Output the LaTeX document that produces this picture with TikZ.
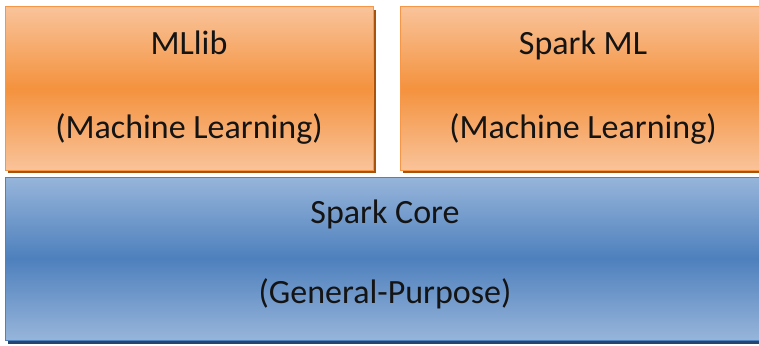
\documentclass[tikz,border=0pt]{standalone}
\usepackage{fontspec}
\setmainfont{Carlito}
\usetikzlibrary{shadows}
\definecolor{orlight}{HTML}{F9C39A}
\definecolor{ormid}{HTML}{F4923E}
\definecolor{oredge}{HTML}{F79646}
\definecolor{orshadow}{HTML}{A9520C}
\definecolor{bllight}{HTML}{97B5DA}
\definecolor{blmid}{HTML}{4E80BD}
\definecolor{bledge}{HTML}{4F81BD}
\definecolor{blshadow}{HTML}{23456F}
\definecolor{txt}{HTML}{141414}
\begin{document}
\begin{tikzpicture}[x=1pt,y=-1pt,
  orbox/.style={draw=oredge, line width=1pt, top color=orlight, bottom color=orlight, middle color=ormid,
    inner sep=0pt, outer sep=0pt,
    drop shadow={shadow xshift=3pt, shadow yshift=-3pt, fill=orshadow, opacity=1}},
  blbox/.style={draw=bledge, line width=1pt, top color=bllight, bottom color=bllight, middle color=blmid,
    inner sep=0pt, outer sep=0pt,
    drop shadow={shadow xshift=3pt, shadow yshift=-4pt, fill=blshadow, opacity=1}},
  lbl/.style={anchor=base, inner sep=0pt, text=txt, font=\fontsize{34}{40}\selectfont}]
\useasboundingbox (0,0) rectangle (759,345);
\fill[white] (0,0) rectangle (759,345);
\node[orbox, minimum width=368pt, minimum height=163pt] (mllib) at (189,88.5) {};
\node[orbox, minimum width=366pt, minimum height=163pt] (sparkml) at (583,88.5) {};
\node[blbox, minimum width=761pt, minimum height=163pt] (core) at (385.5,258.5) {};
\node[lbl] (t1) at (189,55) {MLlib};
\node[lbl] (t2) at (189,138) {(Machine Learning)};
\node[lbl] (t3) at (583,55) {Spark ML};
\node[lbl] (t4) at (583,138) {(Machine Learning)};
\node[lbl] (t5) at (385,223) {Spark Core};
\node[lbl] (t6) at (385,303) {(General-Purpose)};
\end{tikzpicture}
\end{document}
